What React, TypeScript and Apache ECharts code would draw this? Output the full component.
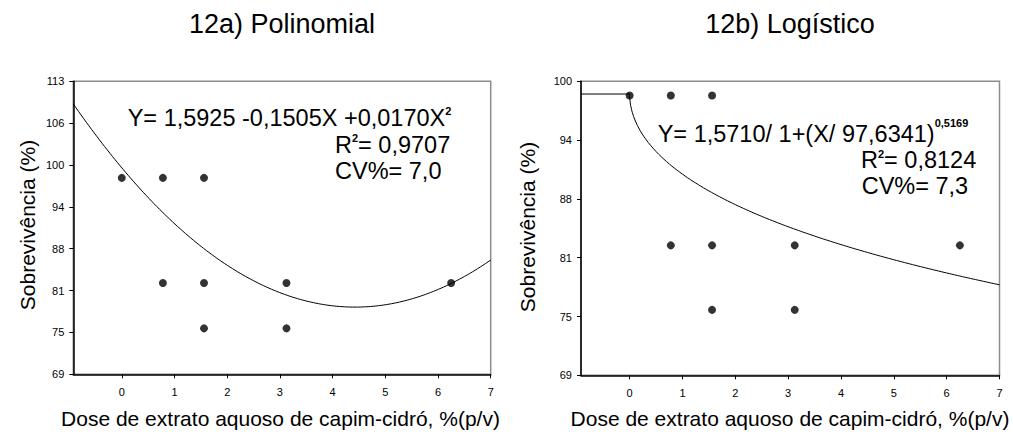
import React, { useEffect, useRef } from "react";
import * as echarts from "echarts";

const FONT = "'Liberation Sans', Arial, sans-serif";

// Observations: dose (%) and survival (axis units)
const doses = [0, 0.78, 0.78, 1.56, 1.56, 1.56, 3.125, 3.125, 6.25];
const survival = [98.5, 98.5, 82.7, 98.5, 82.7, 75.9, 82.7, 75.9, 82.7];

// Axis ticks
const xTicks = [0, 1, 2, 3, 4, 5, 6, 7];
const leftYLabels = ["69", "75", "81", "88", "94", "100", "106", "113"];
const rightYLabels = ["69", "75", "81", "88", "94", "100"];
const xMin = -0.92;
const xMax = 7;
const leftYMin = 69;
const leftYMax = 113;
const rightYMin = 69;
const rightYMax = 100;

// Regression coefficients as printed on each panel
const polyCoef = [1.5925, -0.1505, 0.017];
const logisticCoef = { a: 1.571, b: 97.6341, c: 0.5169 };
// model units -> plotted survival units
const yScale = 62.8;

const polyCurve: number[][] = [];
for (let i = 0; i <= 160; i++) {
  const x = xMin + ((xMax - xMin) * i) / 160;
  polyCurve.push([x, yScale * (polyCoef[0] + polyCoef[1] * x + polyCoef[2] * x * x)]);
}

const logisticCurve: number[][] = [[xMin, yScale * logisticCoef.a]];
const logisticXs = [0, 1e-5, 1e-4, 5e-4, 0.001, 0.003, 0.006, 0.01, 0.02, 0.035, 0.05, 0.075, 0.1];
for (let x = 0.15; x <= xMax + 1e-9; x += 0.05) logisticXs.push(x);
for (const x of logisticXs) {
  logisticCurve.push([
    x,
    (yScale * logisticCoef.a) / (1 + Math.pow(x / logisticCoef.b, logisticCoef.c)),
  ]);
}

const points = doses.map((d, i) => [d, survival[i]]);

const leftYPos = leftYLabels.map((_, i) => leftYMin + (i * (leftYMax - leftYMin)) / (leftYLabels.length - 1));
const rightYPos = rightYLabels.map((_, i) => rightYMin + (i * (rightYMax - rightYMin)) / (rightYLabels.length - 1));

function nearestLabel(v: number, pos: number[], labels: string[]) {
  let best = 0;
  for (let i = 1; i < pos.length; i++) if (Math.abs(pos[i] - v) < Math.abs(pos[best] - v)) best = i;
  return labels[best];
}

const xAxisBase = (gridIndex: number) => ({
  type: "value" as const,
  gridIndex,
  min: xMin,
  max: xMax,
  axisLine: { show: true, onZero: false, lineStyle: { color: "#000", width: 1.5 } },
  axisTick: { show: true, length: 4, customValues: xTicks, lineStyle: { color: "#000", width: 1 } },
  axisLabel: { customValues: xTicks, color: "#000", fontSize: 11, fontFamily: FONT, margin: 12 },
  splitLine: { show: false },
});

const yAxisBase = (gridIndex: number, min: number, max: number, pos: number[], labels: string[]) => ({
  type: "value" as const,
  gridIndex,
  min,
  max,
  axisLine: { show: true, onZero: false, lineStyle: { color: "#000", width: 1.5 } },
  axisTick: { show: true, length: 4, customValues: pos, lineStyle: { color: "#000", width: 1 } },
  axisLabel: {
    customValues: pos,
    color: "#000",
    fontSize: 11,
    fontFamily: FONT,
    margin: 9,
    formatter: (v: number) => nearestLabel(v, pos, labels),
  },
  splitLine: { show: false },
});

const MAIN = 23.5;
const SUP = 11;

// Equation line: main text plus a bold superscript fragment pinned to the line top
function eqText(x: number, top: number, text: string, supLH: number, mainLH = 24) {
  return {
    type: "text",
    x,
    y: top,
    style: {
      text,
      textAlign: "left",
      textVerticalAlign: "top",
      rich: {
        m: { fontSize: MAIN, fontFamily: FONT, fill: "#000", lineHeight: mainLH },
        s: { fontSize: SUP, fontWeight: "bold", fontFamily: FONT, fill: "#000", lineHeight: supLH, verticalAlign: "top" },
      },
    },
  };
}

function plainText(x: number, y: number, text: string, size: number, rotation = 0) {
  return {
    type: "text",
    x,
    y,
    rotation,
    style: { text, fontSize: size, fontFamily: FONT, fill: "#000", textAlign: "center", textVerticalAlign: "middle" },
  };
}

export default function App() {
  const ref = useRef<HTMLDivElement>(null);
  useEffect(() => {
    if (!ref.current) return;
    const chart = echarts.init(ref.current, undefined, { renderer: "svg" });
    chart.setOption({
      animation: false,
      backgroundColor: "#fff",
      grid: [
        { left: 73.3, top: 81.3, width: 417.4, height: 293, show: true, borderColor: "#8c8c8c", borderWidth: 1.5, backgroundColor: "transparent" },
        { left: 581, top: 81.3, width: 418.5, height: 294, show: true, borderColor: "#8c8c8c", borderWidth: 1.5, backgroundColor: "transparent" },
      ],
      xAxis: [xAxisBase(0), xAxisBase(1)],
      yAxis: [
        yAxisBase(0, leftYMin, leftYMax, leftYPos, leftYLabels),
        yAxisBase(1, rightYMin, rightYMax, rightYPos, rightYLabels),
      ],
      series: [
        { type: "line", xAxisIndex: 0, yAxisIndex: 0, data: polyCurve, showSymbol: false, lineStyle: { color: "#000", width: 1 }, z: 2 },
        { type: "scatter", xAxisIndex: 0, yAxisIndex: 0, data: points, symbolSize: 8, itemStyle: { color: "#000" }, z: 3 },
        { type: "line", xAxisIndex: 1, yAxisIndex: 1, data: logisticCurve, showSymbol: false, lineStyle: { color: "#000", width: 1 }, z: 2 },
        { type: "scatter", xAxisIndex: 1, yAxisIndex: 1, data: points, symbolSize: 8, itemStyle: { color: "#000" }, z: 3 },
      ],
      graphic: [
        plainText(282, 24, "12a) Polinomial", 27),
        plainText(790, 24, "12b) Logístico", 27),
        plainText(280.5, 418.7, "Dose de extrato aquoso de capim-cidró, %(p/v)", 21),
        plainText(790, 418.7, "Dose de extrato aquoso de capim-cidró, %(p/v)", 21),
        plainText(27, 225, "Sobrevivência (%)", 21, Math.PI / 2),
        plainText(527.5, 227, "Sobrevivência (%)", 21, Math.PI / 2),
        eqText(127.7, 105.9, "{m|Y= 1,5925 -0,1505X +0,0170X}{s|2}", 18),
        eqText(335, 132.6, "{m|R}{s|2}{m|= 0,9707}", 18),
        eqText(335, 159.2, "{m|CV%= 7,0}", 18),
        eqText(657.7, 117.6, "{m|Y= 1,5710/ 1+(X/ 97,6341)}{s|0,5169}", 9, 32),
        eqText(861, 148.2, "{m|R}{s|2}{m|= 0,8124}", 18),
        eqText(861.7, 173.9, "{m|CV%= 7,3}", 18),
      ],
    });
    return () => chart.dispose();
  }, []);
  return <div ref={ref} style={{ position: "absolute", left: 0, top: 0, width: 1013, height: 432 }} />;
}
